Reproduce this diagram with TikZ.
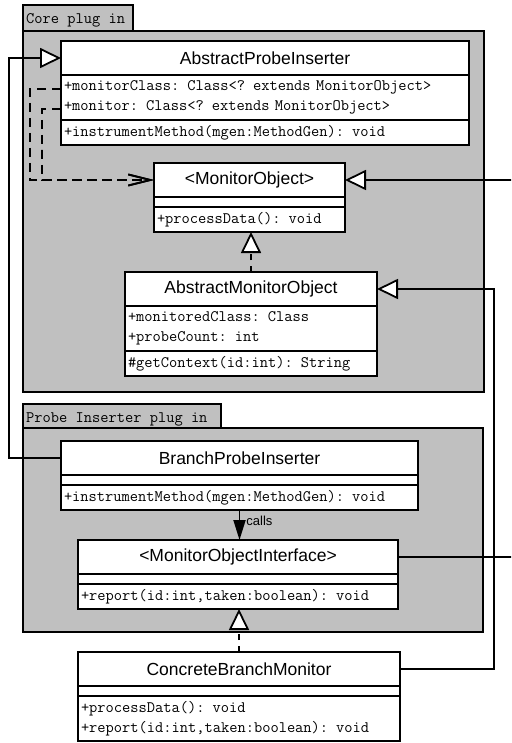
\documentclass[tikz,border=0pt]{standalone}
\usepackage{fontspec}
\setmainfont{Liberation Sans}
\usepackage{xcolor}
\usetikzlibrary{arrows.meta, positioning}
\definecolor{PkgGray}{RGB}{192, 192, 192}

\tikzset{
    pkg/.style      = {draw, fill = PkgGray, line width = 1.8pt, outer sep = 0pt},
    pkglabel/.style = {inner sep = 0pt, anchor = base west, font = \fontsize{16pt}{18pt}\selectfont\ttfamily},
    clshead/.style  = {
        draw, fill = white,
        line width     = 1.8pt,
        outer sep      = 0pt,
        inner sep      = 0pt,
        minimum height = 34pt,
        font           = \fontsize{17.5pt}{20pt}\selectfont,
    },
    clspart/.style  = {
        draw, fill = white,
        line width = 1.8pt,
        outer sep  = 0pt,
        inner xsep = 3pt,
        inner ysep = 0pt,
        align      = left,
        font       = \fontsize{16pt}{20pt}\selectfont\ttfamily,
    },
    inherit/.style   = {line width = 1.8pt, -{Triangle[length = 21pt, width = 20pt, fill = white]}},
    realize/.style   = {inherit, dash pattern = on 6pt off 6pt},
    uses/.style      = {line width = 1.8pt, dash pattern = on 9pt off 6pt,
                        -{Straight Barb[length = 22pt, width = 11pt]}},
    callarrow/.style = {line width = 1.8pt, -{Triangle[length = 20pt, width = 12pt]}},
}

\begin{document}
\begin{tikzpicture}[x = 1pt, y = -1pt]
    \useasboundingbox (0, 0) rectangle (511, 743);
    \clip (0, 0) rectangle (511, 743);

    % packages
    \node[pkg, anchor = north west, minimum width = 461pt, minimum height = 361pt] (core) at (23, 31) {};
    \node[pkg, anchor = south west, minimum width = 110pt, minimum height = 26pt] (coretab) at (core.north west) {};
    \node[pkglabel] (corelbl) at (26, 24) {Core plug in};

    \node[pkg, anchor = north west, minimum width = 460pt, minimum height = 204pt] (probe) at (23, 428) {};
    \node[pkg, anchor = south west, minimum width = 198pt, minimum height = 24pt] (probetab) at (probe.north west) {};
    \node[pkglabel] (probelbl) at (26, 422) {Probe Inserter plug in};

    % core classes
    \node[clshead, anchor = north west, minimum width = 408pt] (api) at (61, 41) {AbstractProbeInserter};
    \node[clspart, below = 0pt of api, text width = 402pt, minimum height = 45pt] (api-attr)
        {+monitorClass: Class<? extends MonitorObject>\\+monitor: Class<? extends MonitorObject>};
    \node[clspart, below = 0pt of api-attr, text width = 402pt, minimum height = 25pt] (api-ops)
        {+instrumentMethod(mgen:MethodGen): void};

    \node[clshead, anchor = north west, minimum width = 191pt] (mo) at (154, 163) {<MonitorObject>};
    \node[clspart, below = 0pt of mo, text width = 185pt, minimum height = 10pt] (mo-attr) {};
    \node[clspart, below = 0pt of mo-attr, text width = 185pt, minimum height = 25pt] (mo-ops)
        {+processData(): void};

    \node[clshead, anchor = north west, minimum width = 252pt] (amo) at (125, 272) {AbstractMonitorObject};
    \node[clspart, below = 0pt of amo, text width = 246pt, minimum height = 45pt] (amo-attr)
        {+monitoredClass: Class\\+probeCount: int};
    \node[clspart, below = 0pt of amo-attr, text width = 246pt, minimum height = 25pt] (amo-ops)
        {\#getContext(id:int): String};

    % probe inserter classes
    \node[clshead, anchor = north west, minimum width = 357pt] (bpi) at (61, 441) {BranchProbeInserter};
    \node[clspart, below = 0pt of bpi, text width = 351pt, minimum height = 10pt] (bpi-attr) {};
    \node[clspart, below = 0pt of bpi-attr, text width = 351pt, minimum height = 25pt] (bpi-ops)
        {+instrumentMethod(mgen:MethodGen): void};

    \node[clshead, anchor = north west, minimum width = 320pt] (moi) at (78, 540) {<MonitorObjectInterface>};
    \node[clspart, below = 0pt of moi, text width = 314pt, minimum height = 10pt] (moi-attr) {};
    \node[clspart, below = 0pt of moi-attr, text width = 314pt, minimum height = 25pt] (moi-ops)
        {+report(id:int,taken:boolean): void};

    \node[clshead, anchor = north west, minimum width = 322pt] (cbm) at (78, 652) {ConcreteBranchMonitor};
    \node[clspart, below = 0pt of cbm, text width = 316pt, minimum height = 10pt] (cbm-attr) {};
    \node[clspart, below = 0pt of cbm-attr, text width = 316pt, minimum height = 45pt] (cbm-ops)
        {+processData(): void\\+report(id:int,taken:boolean): void};

    % bends of the connectors
    \coordinate (lft)  at (9, 300);
    \coordinate (rgt)  at (494, 500);
    \coordinate (offr) at (530, 400);
    \coordinate (dl1)  at (30, 150);
    \coordinate (dl2)  at (42, 150);
    \coordinate (mcls) at ([yshift = -14pt] api-attr.north west);
    \coordinate (mon)  at ([yshift = -34pt] api-attr.north west);

    \draw[uses] (mcls) -| (dl1) |- (mo.west);
    \draw[uses] (mon)  -| (dl2) |- (mo.west);

    \draw[inherit] (bpi.west) -| (lft) |- (api.west);
    \draw[inherit] (moi.east) -| (offr) |- (mo.east);
    \draw[inherit] (cbm.east) -| (rgt) |- (amo.east);

    \draw[realize] (amo.north) -- (amo.north |- mo-ops.south);
    \draw[realize] (cbm.north) -- (cbm.north |- moi-ops.south);

    \draw[callarrow] (bpi-ops.south) -- (bpi-ops.south |- moi.north)
        node[pos = 0.35, right = 5pt, inner sep = 1pt, font = \fontsize{13pt}{15pt}\selectfont] (callslbl) {calls};
\end{tikzpicture}
\end{document}
